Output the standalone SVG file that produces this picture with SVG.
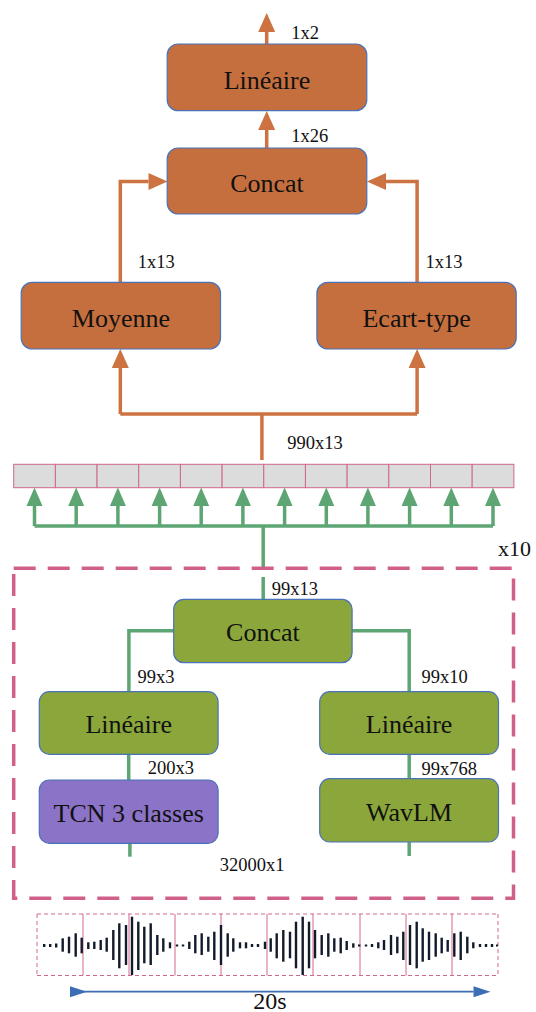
<svg xmlns="http://www.w3.org/2000/svg" width="536" height="1012" viewBox="0 0 536 1012">
<defs>
<style>
.big{font-family:'Liberation Serif','DejaVu Serif',serif;font-size:26px;fill:#111;text-anchor:middle}
.sm{font-family:'Liberation Serif','DejaVu Serif',serif;font-size:18.5px;fill:#111}
.or{fill:#c66f3e;stroke:#4a72b8;stroke-width:1.2}
.gr{fill:#8ba63b;stroke:#4a72b8;stroke-width:1.2}
.pu{fill:#8b73c8;stroke:#4a72b8;stroke-width:1.2}
.lo{fill:none;stroke:#cd7342;stroke-width:3.5}
.lg{fill:none;stroke:#5ea574;stroke-width:3.5}
.cell{fill:#dcdcdc;stroke:#d0688c;stroke-width:1}
.bar{fill:#121a2c}
</style>
<marker id="ao" markerUnits="userSpaceOnUse" markerWidth="20" markerHeight="18" refX="0" refY="8.5" orient="auto" overflow="visible">
<path d="M0,0 L19,8.5 L0,17 z" fill="#cd7342"/>
</marker>
<marker id="ag" markerUnits="userSpaceOnUse" markerWidth="20" markerHeight="18" refX="0" refY="8" orient="auto" overflow="visible">
<path d="M0,0 L18.5,8 L0,16 z" fill="#5ea574"/>
</marker>
<marker id="ab" markerUnits="userSpaceOnUse" markerWidth="18" markerHeight="12" refX="0" refY="5.5" orient="auto" overflow="visible">
<path d="M0,0 L17,5.5 L0,11 z" fill="#3d6db5"/>
</marker>
</defs>
<rect width="536" height="1012" fill="#fff"/>

<g id="connectors">
<path class="lo" d="M266.7,44 V32" marker-end="url(#ao)"/>
<path class="lo" d="M266.7,148 V130" marker-end="url(#ao)"/>
<path class="lo" d="M120.3,282 V181.5 H148.5" marker-end="url(#ao)"/>
<path class="lo" d="M417.1,282 V181.5 H386" marker-end="url(#ao)"/>
<path class="lo" d="M261.9,460 V414"/>
<path class="lo" d="M120.3,414 H417.1"/>
<path class="lo" d="M120.3,414 V368" marker-end="url(#ao)"/>
<path class="lo" d="M417.1,414 V368" marker-end="url(#ao)"/>

<path class="lg" d="M263.2,567 V526"/>
<path class="lg" d="M34.5,526 H493"/>
<path class="lg" d="M34.5,526 V506" marker-end="url(#ag)"/>
<path class="lg" d="M76.2,526 V506" marker-end="url(#ag)"/>
<path class="lg" d="M117.9,526 V506" marker-end="url(#ag)"/>
<path class="lg" d="M159.6,526 V506" marker-end="url(#ag)"/>
<path class="lg" d="M201.2,526 V506" marker-end="url(#ag)"/>
<path class="lg" d="M242.9,526 V506" marker-end="url(#ag)"/>
<path class="lg" d="M284.6,526 V506" marker-end="url(#ag)"/>
<path class="lg" d="M326.3,526 V506" marker-end="url(#ag)"/>
<path class="lg" d="M367.9,526 V506" marker-end="url(#ag)"/>
<path class="lg" d="M409.6,526 V506" marker-end="url(#ag)"/>
<path class="lg" d="M451.3,526 V506" marker-end="url(#ag)"/>
<path class="lg" d="M493,526 V506" marker-end="url(#ag)"/>
<path class="lg" d="M263.2,577 V599.3"/>
<path class="lg" d="M173.7,630.7 H128.9 V691.7"/>
<path class="lg" d="M352.1,630.7 H409.2 V691.7"/>
<path class="lg" d="M128.7,754 V780"/>
<path class="lg" d="M409.2,754 V778.7"/>
<path class="lg" d="M129.9,843 V856.7"/>
<path class="lg" d="M409.2,842 V856"/>

<path d="M70,991.7 H473.5" stroke="#3d6db5" stroke-width="1.8" fill="none" marker-start="url(#ab)" marker-end="url(#ab)"/>
</g>

<g id="repeat-box">
<rect x="13.7" y="568.3" width="499.8" height="330" fill="none" stroke="#d0608a" stroke-width="3.5" stroke-dasharray="22 12"/>
<text class="sm" x="498" y="556" font-family="Liberation Serif, DejaVu Serif, serif" style="font-size:22px">x10</text>
</g>

<g id="node-lineaire-out">
<rect class="or" x="167.2" y="44" width="199.6" height="66.7" rx="11"/>
<text class="big" x="267" y="88.5" font-family="Liberation Serif, DejaVu Serif, serif">Linéaire</text>
</g>
<g id="node-concat-out">
<rect class="or" x="167.2" y="148" width="199.6" height="66" rx="11"/>
<text class="big" x="267" y="191.5" font-family="Liberation Serif, DejaVu Serif, serif">Concat</text>
</g>
<g id="node-moyenne">
<rect class="or" x="21.2" y="282.3" width="199.3" height="66.7" rx="11"/>
<text class="big" x="120.9" y="326.5" font-family="Liberation Serif, DejaVu Serif, serif">Moyenne</text>
</g>
<g id="node-ecart">
<rect class="or" x="316.9" y="282.3" width="199.3" height="66.7" rx="11"/>
<text class="big" x="416.6" y="326.5" font-family="Liberation Serif, DejaVu Serif, serif">Ecart-type</text>
</g>

<g id="node-array">
<rect class="cell" x="13.7" y="464.3" width="41.68" height="23.4"/>
<rect class="cell" x="55.38" y="464.3" width="41.68" height="23.4"/>
<rect class="cell" x="97.06" y="464.3" width="41.68" height="23.4"/>
<rect class="cell" x="138.74" y="464.3" width="41.68" height="23.4"/>
<rect class="cell" x="180.42" y="464.3" width="41.68" height="23.4"/>
<rect class="cell" x="222.1" y="464.3" width="41.68" height="23.4"/>
<rect class="cell" x="263.78" y="464.3" width="41.68" height="23.4"/>
<rect class="cell" x="305.46" y="464.3" width="41.68" height="23.4"/>
<rect class="cell" x="347.14" y="464.3" width="41.68" height="23.4"/>
<rect class="cell" x="388.82" y="464.3" width="41.68" height="23.4"/>
<rect class="cell" x="430.5" y="464.3" width="41.68" height="23.4"/>
<rect class="cell" x="472.18" y="464.3" width="41.68" height="23.4"/>
</g>

<g id="node-concat-in">
<rect class="gr" x="173.7" y="599.3" width="178.4" height="63.4" rx="10"/>
<text class="big" x="262.9" y="641" font-family="Liberation Serif, DejaVu Serif, serif">Concat</text>
</g>
<g id="node-lineaire-left">
<rect class="gr" x="39.3" y="691.7" width="178.8" height="62.6" rx="10"/>
<text class="big" x="128.7" y="733" font-family="Liberation Serif, DejaVu Serif, serif">Linéaire</text>
</g>
<g id="node-lineaire-right">
<rect class="gr" x="319.7" y="691.7" width="178.8" height="62.6" rx="10"/>
<text class="big" x="409.1" y="733" font-family="Liberation Serif, DejaVu Serif, serif">Linéaire</text>
</g>
<g id="node-tcn">
<rect class="pu" x="39.3" y="780" width="178.8" height="63.3" rx="10"/>
<text class="big" x="128.7" y="821.5" font-family="Liberation Serif, DejaVu Serif, serif">TCN 3 classes</text>
</g>
<g id="node-wavlm">
<rect class="gr" x="319.7" y="778.7" width="178.8" height="63.3" rx="10"/>
<text class="big" x="409.1" y="820.5" font-family="Liberation Serif, DejaVu Serif, serif">WavLM</text>
</g>

<g id="labels" font-family="Liberation Serif, DejaVu Serif, serif">
<text class="sm" x="291.3" y="38.5">1x2</text>
<text class="sm" x="291.3" y="141.7">1x26</text>
<text class="sm" x="137.8" y="268.3">1x13</text>
<text class="sm" x="425.6" y="268.3">1x13</text>
<text class="sm" x="287.2" y="449">990x13</text>
<text class="sm" x="271.8" y="595">99x13</text>
<text class="sm" x="137.4" y="682.7">99x3</text>
<text class="sm" x="421.5" y="682.7">99x10</text>
<text class="sm" x="147.7" y="774.3">200x3</text>
<text class="sm" x="421.5" y="775">99x768</text>
<text class="sm" x="219.8" y="871">32000x1</text>
</g>

<g id="waveform">
<g fill="none" stroke="#d0688c" stroke-width="1">
<path d="M37,914 H498 M37,975.5 H498 M37,914 V975.5 M498,914 V975.5" stroke-dasharray="4 3"/>
<path d="M83,914 V975.5 M129,914 V975.5 M175,914 V975.5 M221,914 V975.5 M267,914 V975.5 M313,914 V975.5 M360,914 V975.5 M406,914 V975.5 M452,914 V975.5"/>
</g>
<g class="bar">
<rect x="43" y="944" width="2.4" height="3"/>
<rect x="49" y="944" width="2.4" height="3"/>
<rect x="55" y="943.5" width="2.4" height="4"/>
<rect x="61.5" y="938.3" width="2.4" height="13.4"/>
<rect x="67.8" y="936.7" width="2.4" height="16.6"/>
<rect x="74.5" y="933.3" width="2.4" height="23.4"/>
<rect x="80.5" y="937.7" width="2.4" height="15.6"/>
<rect x="87.1" y="942.3" width="2.4" height="6.7"/>
<rect x="93.1" y="941.7" width="2.4" height="7.3"/>
<rect x="99.5" y="940" width="2.4" height="10"/>
<rect x="105.5" y="937.7" width="2.4" height="14"/>
<rect x="112.1" y="930" width="2.4" height="30"/>
<rect x="118.1" y="923.3" width="2.4" height="45"/>
<rect x="124.8" y="925" width="2.4" height="40"/>
<rect x="130.8" y="916.7" width="2.4" height="58.3"/>
<rect x="137.1" y="921.7" width="2.4" height="48.3"/>
<rect x="143.1" y="926.7" width="2.4" height="36.6"/>
<rect x="149.5" y="923.3" width="2.4" height="41.7"/>
<rect x="156.1" y="935" width="2.4" height="20"/>
<rect x="162.1" y="938.3" width="2.4" height="13.4"/>
<rect x="168.8" y="942.3" width="2.4" height="6"/>
<rect x="175.8" y="944.5" width="2.4" height="2"/>
<rect x="181.8" y="944.5" width="2.4" height="2"/>
<rect x="188.1" y="941.7" width="2.4" height="7.3"/>
<rect x="194.1" y="935" width="2.4" height="18.3"/>
<rect x="200.5" y="933.3" width="2.4" height="21.7"/>
<rect x="207.1" y="936.7" width="2.4" height="15"/>
<rect x="213.1" y="931.7" width="2.4" height="28.3"/>
<rect x="219.8" y="925" width="2.4" height="40"/>
<rect x="226.5" y="933.3" width="2.4" height="23.4"/>
<rect x="232.1" y="938.3" width="2.4" height="13.4"/>
<rect x="238.8" y="942.3" width="2.4" height="6"/>
<rect x="244.8" y="942.3" width="2.4" height="6"/>
<rect x="250.8" y="944" width="2.4" height="3"/>
<rect x="256.8" y="944" width="2.4" height="3"/>
<rect x="263.8" y="941.7" width="2.4" height="7.3"/>
<rect x="269.5" y="938.3" width="2.4" height="13.4"/>
<rect x="275.5" y="933.3" width="2.4" height="25"/>
<rect x="282.1" y="930" width="2.4" height="31.7"/>
<rect x="288.8" y="931.7" width="2.4" height="26.6"/>
<rect x="294.8" y="921.7" width="2.4" height="46.6"/>
<rect x="301.5" y="916.7" width="2.4" height="58.3"/>
<rect x="307.8" y="921.7" width="2.4" height="46.6"/>
<rect x="313.8" y="930" width="2.4" height="28.3"/>
<rect x="320.5" y="935" width="2.4" height="20"/>
<rect x="327.1" y="933.3" width="2.4" height="23.4"/>
<rect x="333.1" y="938.3" width="2.4" height="13.4"/>
<rect x="339.5" y="937.7" width="2.4" height="15.6"/>
<rect x="345.5" y="941" width="2.4" height="9"/>
<rect x="352.1" y="943.3" width="2.4" height="4.4"/>
<rect x="358" y="944.5" width="2.4" height="2"/>
<rect x="364.8" y="944.5" width="2.4" height="2"/>
<rect x="370.8" y="944" width="2.4" height="3"/>
<rect x="377.1" y="942.3" width="2.4" height="6"/>
<rect x="382.8" y="940" width="2.4" height="10"/>
<rect x="389.8" y="935" width="2.4" height="20"/>
<rect x="396.1" y="936.7" width="2.4" height="16.6"/>
<rect x="402.1" y="931.7" width="2.4" height="28.3"/>
<rect x="408.8" y="925" width="2.4" height="40"/>
<rect x="415.5" y="921.7" width="2.4" height="46.6"/>
<rect x="421.5" y="928.3" width="2.4" height="33.4"/>
<rect x="427.8" y="931.7" width="2.4" height="28.3"/>
<rect x="434.5" y="933.3" width="2.4" height="23.4"/>
<rect x="440.5" y="937.7" width="2.4" height="15.6"/>
<rect x="446.5" y="940" width="2.4" height="11.7"/>
<rect x="453.1" y="933.3" width="2.4" height="23.4"/>
<rect x="459.5" y="931.7" width="2.4" height="28.3"/>
<rect x="466.1" y="936.7" width="2.4" height="16.6"/>
<rect x="472.1" y="942.3" width="2.4" height="6"/>
<rect x="478.8" y="944" width="2.4" height="3"/>
<rect x="484.8" y="944" width="2.4" height="3"/>
<rect x="490.8" y="944" width="2.4" height="3"/>
<rect x="496" y="944.5" width="2" height="2"/>
</g>
<text class="sm" x="270" y="1009" text-anchor="middle" font-family="Liberation Serif, DejaVu Serif, serif" style="font-size:24px">20s</text>
</g>
</svg>
